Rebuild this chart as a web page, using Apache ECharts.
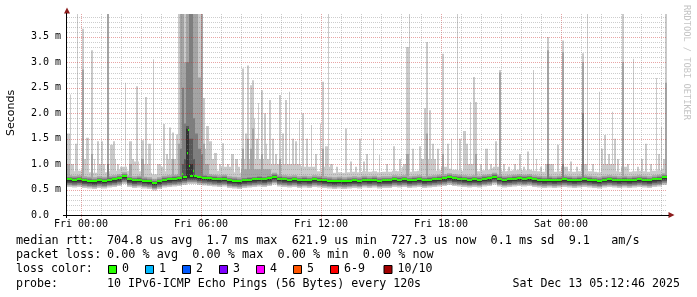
<!DOCTYPE html>
<html><head><meta charset="utf-8">
<script src="https://cdn.jsdelivr.net/npm/echarts@6/dist/echarts.min.js"></script>
<style>html,body{margin:0;padding:0;background:#fff}#c{width:697px;height:297px}</style>
</head><body><div id="c"></div>
<script>
// ---------------- DATA ----------------
const timeLabels = ['Fri 00:00', 'Fri 06:00', 'Fri 12:00', 'Fri 18:00', 'Sat 00:00'];
const timeLabelHours = [0, 6, 12, 18, 24];           // hours since Fri 00:00
const yTickValues = [0, 0.5, 1, 1.5, 2, 2.5, 3, 3.5]; // milliseconds
const xStart = -0.7, xEnd = 29.3;                     // hours shown
const colHours = 0.05;                                // one RRD step (3 min)
const yMax = 3.95;

// median RTT (ms), one value per 15 minutes starting at xStart
const medianStart = -0.7, medianStep = 0.25;
const medianMs = [
  0.70,0.69,0.70,0.68, 0.67,0.66,0.68,0.67, 0.69,0.70,0.72,0.76, 0.70,0.68,0.69,0.67,
  0.66,0.63,0.66,0.69, 0.70,0.71,0.72,0.74, 0.76,0.76,0.74,0.73, 0.72,0.71,0.70,0.71,
  0.68,0.67,0.66,0.68, 0.69,0.70,0.71,0.70, 0.72,0.75,0.71,0.70, 0.69,0.70,0.68,0.69,
  0.68,0.70,0.69,0.68, 0.67,0.66,0.67,0.66, 0.67,0.68,0.67,0.69, 0.68,0.69,0.67,0.68,
  0.68,0.70,0.69,0.70, 0.68,0.69,0.70,0.68, 0.69,0.70,0.71,0.72, 0.74,0.72,0.71,0.70,
  0.69,0.70,0.69,0.71, 0.72,0.75,0.71,0.69, 0.70,0.71,0.72,0.71, 0.72,0.70,0.69,0.68,
  0.69,0.68,0.69,0.70, 0.69,0.68,0.69,0.70, 0.69,0.68,0.67,0.69, 0.70,0.69,0.68,0.69,
  0.68,0.69,0.70,0.69, 0.68,0.70,0.71,0.74
];
// isolated median samples [hour, ms]
const medianPeaks = [[5.05,0.80],[5.28,1.22],[5.35,1.68],[5.40,0.96],[5.60,0.87]];

// smoke spread around the median in quiet periods (ms), outer band -> inner band
const smokeLowOffset  = [-0.15,-0.12,-0.10,-0.07,-0.04];
const smokeHighOffset = [ 0.17, 0.08, 0.045, 0.025, 0.01];

// smoke spikes: [hour, columns, top of band1, band2, band3, band4, band5] (ms); 4 = off the top
const spikes = [
  [-0.65,6,1.00],[0.10,4,1.10],[0.90,6,1.00],[1.50,5,1.10],[2.00,6,0.95],[2.60,6,1.05],[3.10,5,1.00],
  [3.90,5,0.95],[4.30,10,1.10],[4.90,30,1.30,1.00],[6.20,12,1.10],[7.00,10,0.95],[8.00,30,1.10,0.90],
  [9.50,30,1.00],[11.00,15,0.95],[12.10,8,0.95],[16.10,6,1.00],[17.00,15,1.10],[18.00,6,0.95],
  [19.20,12,1.00],[20.60,8,0.95],[23.20,8,1.00],[24.00,6,0.95],[25.00,6,1.00],[26.00,15,1.00],
  [27.00,6,0.95],[29.10,4,1.10],
  [-0.70,3,1.60,1.00],[-0.55,1,2.37],[-0.30,2,1.40],[-0.20,1,4],[0.03,2,3.66,2.86],[0.25,3,1.52],
  [0.48,2,3.24,1.20],[0.65,1,1.10],[0.80,2,1.45],[1.00,2,1.45],[1.28,2,4,4,1.00],[1.45,3,1.38],
  [1.60,2,1.45],[1.80,2,1.00],[1.95,2,0.95],[2.18,1,2.60],[2.40,3,1.45,1.00],[2.55,2,1.10],
  [2.75,2,2.53],[3.00,3,1.47,1.10],[3.20,2,2.32],[3.35,3,1.40],[3.58,1,3.06],[3.80,4,1.00],
  [4.10,2,1.79],[4.25,2,1.20],[4.40,2,1.72],[4.55,2,1.62,1.10],[4.75,2,1.58],
  [4.85,2,4,1.40],[4.95,2,4,4,1.30],[5.05,2,4,4,2.50,1.00],[5.15,2,4,3.00,1.80,1.10],
  [5.25,3,4,4,3.00,1.75,1.70],[5.40,4,4,4,4,1.50,1.00],[5.60,2,4,4,1.90,1.10],[5.70,3,4,4,1.60],
  [5.85,3,4,2.70,1.30],[6.00,2,4,4,1.20],[6.10,2,2.30,1.40],[6.25,3,1.75],[6.40,3,1.45],
  [6.65,3,1.22],[6.90,2,1.00],[7.05,2,1.41],[7.30,2,1.00],[7.50,3,1.20],[7.70,3,1.10],[7.85,2,0.95],
  [8.05,2,2.88,1.30],[8.20,2,1.60],[8.30,2,2.94,1.50],[8.45,2,2.55,1.30],[8.55,2,2.65,1.70],
  [8.65,1,1.90],[8.75,2,1.50],[8.85,1,2.20],[9.00,2,2.45,1.20],[9.15,2,2.00],[9.25,1,1.40],
  [9.40,2,2.26],[9.55,2,1.50],[9.70,2,1.20],[9.88,2,2.36,1.10],[10.05,2,1.60],[10.20,2,2.26],
  [10.38,1,2.42],[10.55,2,1.50],[10.70,2,1.45],[10.88,1,1.86],[11.05,2,2.00],[11.25,2,1.50],
  [11.50,1,1.77],[11.70,2,1.20],[11.93,1,1.80],[12.05,2,2.62,1.30],[12.20,3,1.35],[12.35,1,4],
  [12.45,3,1.00],[12.75,2,0.95],[13.20,2,1.70],[13.45,2,1.05],[13.70,2,0.95],[13.90,2,1.50],
  [14.10,2,1.05],[14.25,2,1.20],[14.60,1,1.50],[14.90,1,1.18],[15.25,2,1.00],[15.60,2,1.35],
  [15.90,2,1.10],[16.05,2,0.95],[16.25,3,3.30,1.20],[16.38,1,4],[16.55,2,1.30],[16.88,2,1.35],
  [17.13,2,2.10],[17.25,2,3.40,1.60],[17.38,2,2.06],[17.55,2,1.40],[17.78,2,1.30],
  [18.05,2,3.17,1.20],[18.30,2,1.40],[18.50,1,1.50],[18.80,1,4],[18.90,2,1.50],[19.08,3,1.65],
  [19.25,2,1.40],[19.43,1,2.22],[19.58,2,2.71],[19.70,2,2.22,1.20],[19.95,2,1.00],[20.20,3,1.30],
  [20.45,2,1.00],[20.68,2,1.45],[20.88,2,2.85,2.80],[21.10,2,1.00],[21.35,2,0.95],[21.65,2,1.00],
  [21.88,2,1.20],[22.10,2,0.95],[22.30,2,1.25],[22.58,1,2.85],[22.75,1,1.10],[22.95,2,0.95],
  [23.28,2,3.50,3.24,1.00],[23.55,2,1.00],[23.80,2,1.38],[24.05,2,3.43,3.20,1.00],[24.30,1,0.95],
  [24.45,2,1.05],[24.75,2,0.95],[25.05,2,3.18,3.00,2.00],[25.30,1,4],[25.55,2,1.00],
  [25.88,1,2.42],[26.00,2,1.30],[26.15,2,1.57],[26.35,2,1.20],[26.55,1,2.03],[26.65,2,1.50],
  [26.80,2,1.10],[27.05,2,4,3.00],[27.30,2,1.00],[27.58,1,3.07],[27.80,2,0.95],[28.00,2,1.10],
  [28.20,2,1.40],[28.45,2,1.00],[28.73,1,2.69],[28.85,2,1.20],[29.00,1,1.73],[29.20,2,4,2.60]
];

const lossLabels = ['0','1','2','3','4','5','6-9','10/10'];
const lossColors = ['#26ff00','#00b8ff','#0059ff','#7e00ff','#ff00ff','#ff5500','#ff0000','#a10000'];
const statsRtt  = ['median rtt:', '704.8 us avg  1.7 ms max  621.9 us min  727.3 us now  0.1 ms sd  9.1   am/s'];
const statsLoss = ['packet loss:', '0.00 % avg  0.00 % max  0.00 % min  0.00 % now'];
const probeText = ['probe:', '10 IPv6-ICMP Echo Pings (56 Bytes) every 120s'];
const stampText = 'Sat Dec 13 05:12:46 2025';

// ---------------- BUILD ----------------
const nCols = Math.round((xEnd - xStart) / colHours);
const cols = [];
for (let c = 0; c < nCols; c++) {
  const t = xStart + c * colHours;
  const mi = Math.min(medianMs.length - 1, Math.floor((t - medianStart) / medianStep + 1e-6));
  const med = medianMs[mi];
  cols.push({ t, med,
    lo: smokeLowOffset.map(o => med + o),
    hi: smokeHighOffset.map(o => med + o) });
}
spikes.forEach(s => {
  const c0 = Math.round((s[0] - xStart) / colHours);
  for (let k = 0; k < s[1]; k++) {
    const col = cols[c0 + k]; if (!col) continue;
    for (let b = 0; b < 5; b++) if (s[2 + b] !== undefined) col.hi[b] = Math.max(col.hi[b], s[2 + b]);
  }
});
medianPeaks.forEach(p => {
  const col = cols[Math.round((p[0] - xStart) / colHours)];
  if (col) col.med = p[1];
});
const smokeData = cols.map(c => {
  const row = [c.t, c.med];
  for (let b = 0; b < 5; b++) row.push(c.lo[b], c.hi[b]);
  return row;
});
// grid rows: [x, y, direction(0 vertical / 1 horizontal), major]
const gridData = [];
for (let h = Math.ceil(xStart); h <= Math.floor(xEnd); h++) gridData.push([h, 0, 0, h % 6 === 0 ? 1 : 0]);
for (let k = 1; k * 0.1 < yMax; k++) gridData.push([xStart, +(k * 0.1).toFixed(1), 1, k % 5 === 0 ? 1 : 0]);

const bandColors = ['#cacaca','#a4a4a4','#7e7e7e','#585858','#323232'];
const MONO = '"DejaVu Sans Mono", monospace';

function renderSmoke(params, api) {
  const cs = params.coordSys;
  const area = { x: cs.x, y: cs.y, width: cs.width, height: cs.height };
  const t = api.value(0);
  const children = [];
  for (let b = 0; b < 5; b++) {
    const lo = api.value(2 + 2 * b), hi = api.value(3 + 2 * b);
    const a = api.coord([t, hi]), z = api.coord([t + colHours, lo]);
    const r = echarts.graphic.clipRectByRect({ x: a[0], y: a[1], width: z[0] - a[0], height: z[1] - a[1] }, area);
    if (r) children.push({ type: 'rect', shape: r, style: { fill: bandColors[b], opacity: 1, stroke: null } });
  }
  const m = api.value(1);
  const pm = api.coord([t, m]), pe = api.coord([t + colHours, m]);
  children.push({ type: 'rect', shape: { x: pm[0], y: Math.round(pm[1]) - 1, width: pe[0] - pm[0], height: 2 },
    style: { fill: lossColors[0], opacity: 1, stroke: null } });
  return { type: 'group', children };
}
function renderGrid(params, api) {
  const cs = params.coordSys;
  const dir = api.value(2), major = api.value(3);
  const stroke = major ? 'rgba(200,40,40,0.42)' : 'rgba(130,130,130,0.4)';
  let shape;
  if (dir === 0) {
    const x = Math.round(api.coord([api.value(0), 0])[0]) + 0.5;
    shape = { x1: x, y1: cs.y, x2: x, y2: cs.y + cs.height + (major ? 4 : 0) };
  } else {
    const y = Math.round(api.coord([xStart, api.value(1)])[1]) + 0.5;
    shape = { x1: cs.x, y1: y, x2: cs.x + cs.width, y2: y };
  }
  return { type: 'line', shape, style: { stroke, lineWidth: 1, lineDash: [1, 1], fill: null } };
}

const chart = echarts.init(document.getElementById('c'), null, { renderer: 'canvas' });
const txt = (x, y, text, size, align) => ({ type: 'text', x, y, silent: true,
  style: { text, font: (size || 11.6) + 'px ' + MONO, fill: '#000', verticalAlign: 'middle', align: align || 'left' } });
const graphics = [
  { type: 'text', x: 11, y: 113, rotation: Math.PI / 2, silent: true,
    style: { text: 'Seconds', font: '11px "DejaVu Sans", sans-serif', fill: '#000', align: 'center', verticalAlign: 'middle' } },
  { type: 'text', x: 686, y: 5, rotation: -Math.PI / 2, silent: true,
    style: { text: 'RRDTOOL / TOBI OETIKER', font: '8.7px ' + MONO, fill: '#c4c4c4', align: 'left', verticalAlign: 'middle' } },
  { type: 'polygon', silent: true, shape: { points: [[64, 13.5], [70, 13.5], [67, 7.5]] }, style: { fill: '#8c1c1c' } },
  { type: 'polygon', silent: true, shape: { points: [[668.5, 212], [668.5, 218], [674.5, 215]] }, style: { fill: '#8c1c1c' } },
  { type: 'line', silent: true, z: 10, shape: { x1: 63, y1: 215.5, x2: 669, y2: 215.5 }, style: { stroke: '#000', lineWidth: 1 } },
  { type: 'line', silent: true, z: 10, shape: { x1: 66.5, y1: 13, x2: 66.5, y2: 218 }, style: { stroke: '#000', lineWidth: 1 } },
  txt(16, 241, statsRtt[0], 11.8), txt(107, 241, statsRtt[1], 11.8),
  txt(16, 255.2, statsLoss[0], 11.8), txt(107, 255.2, statsLoss[1], 11.8),
  txt(16, 269.4, 'loss color:'),
  txt(16, 283.6, probeText[0]), txt(107, 283.6, probeText[1]),
  txt(680, 283.6, stampText, 11.6, 'right')
];
lossLabels.forEach((lab, i) => {
  const bx = 108.5 + 37 * Math.min(i, 6) + (i === 7 ? 53.5 : 0);
  graphics.push({ type: 'rect', silent: true, shape: { x: bx, y: 265.5, width: 8, height: 8 },
    style: { fill: lossColors[i], stroke: '#000', lineWidth: 1 } });
  graphics.push(txt(bx + 13.5, 269.4, lab));
});

chart.setOption({
  animation: false,
  backgroundColor: '#ffffff',
  grid: { left: 67, top: 14, width: 600, height: 201, containLabel: false },
  xAxis: {
    type: 'value', min: xStart, max: xEnd,
    axisLine: { show: false }, axisTick: { show: false }, splitLine: { show: false },
    axisLabel: { customValues: timeLabelHours, margin: 4, color: '#000', fontFamily: MONO, fontSize: 10,
      formatter: v => timeLabels[timeLabelHours.indexOf(Math.round(v))] || '' }
  },
  yAxis: {
    type: 'value', min: 0, max: yMax, interval: 0.5,
    axisLine: { show: false }, axisTick: { show: false }, splitLine: { show: false },
    axisLabel: { customValues: yTickValues, margin: 6, color: '#000', fontFamily: MONO, fontSize: 10,
      formatter: v => v === 0 ? '0.0  ' : v.toFixed(1) + ' m' }
  },
  series: [
    { type: 'custom', name: 'smoke', renderItem: renderSmoke, data: smokeData, progressive: 0, silent: true, z: 2,
      itemStyle: { color: '#cacaca' }, encode: { x: 0, y: 1 } },
    { type: 'custom', name: 'grid', renderItem: renderGrid, data: gridData, progressive: 0, silent: true, z: 3,
      itemStyle: { color: '#999' }, encode: { x: 0, y: 1 } }
  ],
  graphic: graphics
});
</script></body></html>
